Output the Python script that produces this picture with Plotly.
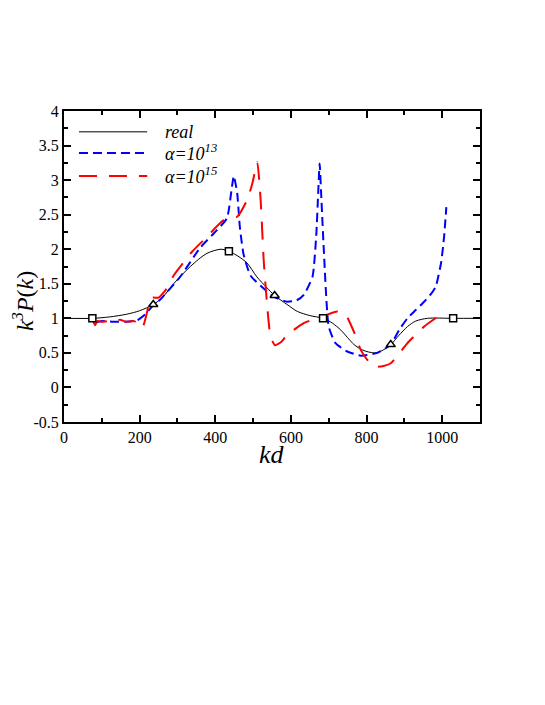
import plotly.graph_objects as go

# "real" spectrum
real_kd = [0, 75, 120, 166, 200, 236, 260, 290, 334, 378, 415, 436, 460, 484, 510, 537, 557,
           590, 617, 650, 685, 710, 732, 750, 767, 790, 820, 840, 864, 885, 908, 930, 961, 1029, 1100]
real_p = [1.0, 1.0, 1.02, 1.06, 1.11, 1.2, 1.3, 1.5, 1.75, 1.94, 2.0, 1.97, 1.9, 1.8, 1.6, 1.44, 1.33,
          1.2, 1.1, 1.04, 1.0, 0.93, 0.83, 0.72, 0.62, 0.54, 0.5, 0.53, 0.62, 0.75, 0.88, 0.96, 1.0, 1.0, 1.0]

# alpha = 1e13
a13_kd = [85, 100, 130, 160, 193, 215, 236, 254, 307, 360, 405, 431, 444, 449, 458, 465, 475, 493,
          520, 555, 590, 615, 634, 657, 667, 672, 676, 680, 687, 700, 718, 749, 785, 829, 864, 886,
          908, 930, 952, 970, 983, 997, 1005, 1011]
a13_p = [0.94, 0.96, 0.95, 0.95, 0.97, 1.06, 1.19, 1.27, 1.6, 2.02, 2.28, 2.45, 2.9, 3.06, 2.81, 2.32,
         1.92, 1.62, 1.47, 1.31, 1.24, 1.26, 1.34, 1.6, 2.2, 2.8, 3.24, 2.8, 1.99, 0.88, 0.64, 0.52,
         0.46, 0.5, 0.62, 0.83, 1.0, 1.12, 1.24, 1.35, 1.46, 1.8, 2.18, 2.61]

# alpha = 1e15
a15_kd = [78, 82, 88, 100, 115, 131, 148, 165, 185, 194, 201, 210, 220, 228, 236, 250, 270, 290,
          338, 378, 422, 458, 484, 498, 511, 520, 528, 537, 546, 558, 575, 590, 634, 679, 723, 745,
          767, 785, 802, 824, 845, 864, 908, 952, 995]
a15_p = [0.95, 0.9, 0.96, 0.95, 0.96, 0.95, 0.98, 0.95, 0.96, 0.93, 0.86, 0.9, 1.1, 1.28, 1.3, 1.3,
         1.42, 1.62, 1.96, 2.18, 2.42, 2.47, 2.71, 2.95, 3.26, 2.71, 1.84, 1.2, 0.74, 0.61, 0.66, 0.76,
         0.93, 1.02, 1.1, 1.05, 0.8, 0.54, 0.4, 0.3, 0.31, 0.35, 0.64, 0.88, 1.05]

# symbols on the real curve
sq_kd = [75, 436, 685, 1029]
sq_p = [1.0, 1.97, 1.0, 1.0]
tri_kd = [236, 557, 864]
tri_p = [1.2, 1.33, 0.62]

y_ticks = [-0.5, 0, 0.5, 1, 1.5, 2, 2.5, 3, 3.5, 4]
y_labels = ["-0.5", "0", "0.5", "1", "1.5", "2", "2.5", "3", "3.5", "4"]

legend_names = ["<i>real</i>", "<i>α=10<sup>13</sup></i>", "<i>α=10<sup>15</sup></i>"]
colors = ["black", "#0000ff", "#ff0000"]
widths = [1, 2, 2]
dashes = ["solid", "9px,5px", "18px,12px"]

serif = "Liberation Serif, DejaVu Serif, serif"

fig = go.Figure()

series = [(real_kd, real_p, 0.8), (a13_kd, a13_p, 0.5), (a15_kd, a15_p, 0.5)]
for i, (xs, ys, sm) in enumerate(series):
    fig.add_trace(go.Scatter(x=xs, y=ys, mode="lines", name=legend_names[i], showlegend=False,
                             line=dict(color=colors[i], width=widths[i], dash=dashes[i],
                                       shape="spline", smoothing=sm)))

fig.add_trace(go.Scatter(x=sq_kd, y=sq_p, mode="markers", showlegend=False,
                         marker=dict(symbol="square", size=7, color="white",
                                     line=dict(color="black", width=1.5))))
fig.add_trace(go.Scatter(x=tri_kd, y=tri_p, mode="markers", showlegend=False,
                         marker=dict(symbol="triangle-up", size=8, color="white",
                                     line=dict(color="black", width=1.5))))

# legend drawn by hand so the sample lines can be as long as in the original
leg_rows = [0.933, 0.865, 0.791]
for i, yy in enumerate(leg_rows):
    fig.add_shape(type="line", xref="paper", yref="paper", x0=0.036, x1=0.2, y0=yy, y1=yy,
                  line=dict(color=colors[i], width=widths[i], dash=dashes[i]))
    fig.add_annotation(xref="paper", yref="paper", x=0.238, y=yy, xanchor="left", yanchor="middle",
                       text=legend_names[i], showarrow=False,
                       font=dict(family=serif, size=18, color="black"))

# axis titles
fig.add_annotation(xref="paper", yref="paper", x=0.5, y=-0.106, xanchor="center", yanchor="middle",
                   text="<i>kd</i>", showarrow=False, font=dict(family=serif, size=26, color="black"))
fig.add_annotation(xref="paper", yref="paper", x=-0.1, y=0.39, xanchor="center", yanchor="middle",
                   textangle=-90, text="<i>k<sup>3</sup>P</i>(<i>k</i>)", showarrow=False,
                   font=dict(family=serif, size=24, color="black"))

axis_common = dict(showline=True, linecolor="black", linewidth=2, mirror="allticks",
                   ticks="inside", ticklen=7, tickwidth=1.5, tickcolor="black",
                   showgrid=False, zeroline=False, automargin=False,
                   tickfont=dict(family=serif, size=16, color="black"))

fig.update_xaxes(range=[0, 1100], dtick=200, tick0=0,
                 minor=dict(ticks="inside", ticklen=4, tickwidth=1.5, tickcolor="black", dtick=100),
                 **axis_common)
fig.update_yaxes(range=[-0.5, 4], tickvals=y_ticks, ticktext=y_labels,
                 minor=dict(ticks="inside", ticklen=4, tickwidth=1.5, tickcolor="black", dtick=0.25),
                 **axis_common)

# the page adds an 8px body margin, so the plot box is shifted back by 8px
fig.update_layout(
    width=545, height=705,
    margin=dict(l=56, r=73, t=103, b=291),
    paper_bgcolor="white", plot_bgcolor="white",
    showlegend=False,
)

fig.write_html("out.html")
